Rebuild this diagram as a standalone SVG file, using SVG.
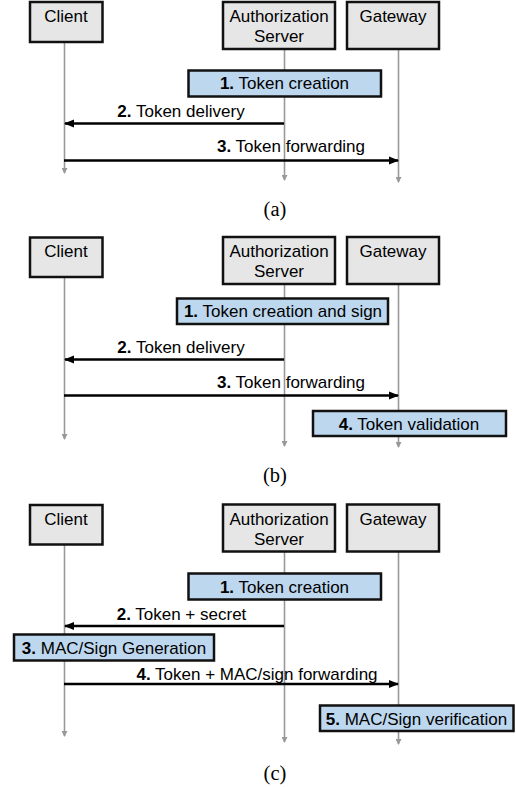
<svg xmlns="http://www.w3.org/2000/svg" width="516" height="787" viewBox="0 0 516 787">
<defs>
<marker id="ah" markerUnits="userSpaceOnUse" markerWidth="10" markerHeight="10" viewBox="0 0 10 10" refX="9" refY="5" orient="auto">
<path d="M0,1 L10,5 L0,9 Z" fill="#000"/>
</marker>
<marker id="lh" markerUnits="userSpaceOnUse" markerWidth="6" markerHeight="6" viewBox="0 0 6 6" refX="5" refY="3" orient="auto">
<path d="M0,0 L6,3 L0,6 Z" fill="#999"/>
</marker>
</defs>
<style>
.node{fill:#e6e6e6;stroke:#111;stroke-width:2.5}
.step{fill:#bdd7ee;stroke:#111;stroke-width:2.5}
.life{stroke:#999;stroke-width:1.6;fill:none;marker-end:url(#lh)}
.msg{stroke:#000;stroke-width:2.4;fill:none;marker-end:url(#ah)}
text{font-family:"Liberation Sans",Arial,sans-serif;font-size:17px;fill:#000;text-anchor:middle}
.b{font-weight:bold}
.cap{font-family:"Liberation Serif","Times New Roman",serif;font-size:20.5px}
</style>
<rect width="516" height="787" fill="#fff"/>

<!-- ===== Panel (a) ===== -->
<g id="connectors-a">
<line class="life" x1="64.5" y1="42" x2="64.5" y2="173"/>
<line class="life" x1="284.5" y1="49" x2="284.5" y2="180"/>
<line class="life" x1="398.5" y1="49" x2="398.5" y2="182"/>
<line class="msg" x1="284" y1="123.5" x2="65" y2="123.5"/>
<line class="msg" x1="64" y1="160.5" x2="398" y2="160.5"/>
<text x="181" y="117"><tspan class="b">2.</tspan> Token delivery</text>
<text x="291" y="152"><tspan class="b">3.</tspan> Token forwarding</text>
</g>
<g id="a-client"><rect class="node" x="30" y="2" width="72.5" height="40"/><text x="66" y="22">Client</text></g>
<g id="a-auth"><rect class="node" x="223" y="2" width="112" height="47"/><text x="279" y="22">Authorization</text><text x="279" y="42">Server</text></g>
<g id="a-gateway"><rect class="node" x="347" y="2" width="92" height="47"/><text x="393" y="22">Gateway</text></g>
<g id="a-step1"><rect class="step" x="188.5" y="70.5" width="192.5" height="26"/><text x="284.5" y="89"><tspan class="b">1.</tspan> Token creation</text></g>
<text class="cap" x="275" y="216">(a)</text>

<!-- ===== Panel (b) ===== -->
<g id="connectors-b">
<line class="life" x1="64.5" y1="277" x2="64.5" y2="439"/>
<line class="life" x1="284.5" y1="284" x2="284.5" y2="446"/>
<line class="life" x1="398.5" y1="284" x2="398.5" y2="447"/>
<line class="msg" x1="284" y1="359.5" x2="65" y2="359.5"/>
<line class="msg" x1="64" y1="395.5" x2="398" y2="395.5"/>
<text x="181" y="352.5"><tspan class="b">2.</tspan> Token delivery</text>
<text x="291" y="387.5"><tspan class="b">3.</tspan> Token forwarding</text>
</g>
<g id="b-client"><rect class="node" x="30" y="237.5" width="72.5" height="39.5"/><text x="66" y="257">Client</text></g>
<g id="b-auth"><rect class="node" x="223" y="237" width="112" height="47"/><text x="279" y="257">Authorization</text><text x="279" y="277">Server</text></g>
<g id="b-gateway"><rect class="node" x="347" y="237" width="92" height="47"/><text x="393" y="257">Gateway</text></g>
<g id="b-step1"><rect class="step" x="177" y="298.5" width="211" height="25.5"/><text x="283" y="317"><tspan class="b">1.</tspan> Token creation and sign</text></g>
<g id="b-step4"><rect class="step" x="313" y="411" width="193" height="25"/><text x="409" y="429.5"><tspan class="b">4.</tspan> Token validation</text></g>
<text class="cap" x="275" y="482">(b)</text>

<!-- ===== Panel (c) ===== -->
<g id="connectors-c">
<line class="life" x1="64.5" y1="544" x2="64.5" y2="736"/>
<line class="life" x1="284.5" y1="552" x2="284.5" y2="742"/>
<line class="life" x1="398.5" y1="552" x2="398.5" y2="744"/>
<line class="msg" x1="284" y1="626" x2="65" y2="626"/>
<line class="msg" x1="64" y1="684" x2="398" y2="684"/>
<text x="181.5" y="619.5"><tspan class="b">2.</tspan> Token + secret</text>
<text x="257" y="679.5"><tspan class="b">4.</tspan> Token + MAC/sign forwarding</text>
</g>
<g id="c-client"><rect class="node" x="30" y="505" width="72.5" height="39.5"/><text x="66" y="525">Client</text></g>
<g id="c-auth"><rect class="node" x="223" y="504.5" width="112" height="47"/><text x="279" y="525">Authorization</text><text x="279" y="544.5">Server</text></g>
<g id="c-gateway"><rect class="node" x="347" y="504.5" width="92" height="47"/><text x="393" y="525">Gateway</text></g>
<g id="c-step1"><rect class="step" x="188.5" y="573.5" width="192.5" height="26"/><text x="284.5" y="592.5"><tspan class="b">1.</tspan> Token creation</text></g>
<g id="c-step3"><rect class="step" x="14" y="634.5" width="200" height="26"/><text x="114" y="653.5"><tspan class="b">3.</tspan> MAC/Sign Generation</text></g>
<g id="c-step5"><rect class="step" x="320" y="705.5" width="193.5" height="25.5"/><text x="416.5" y="725"><tspan class="b">5.</tspan> MAC/Sign verification</text></g>
<text class="cap" x="275" y="780">(c)</text>
</svg>
